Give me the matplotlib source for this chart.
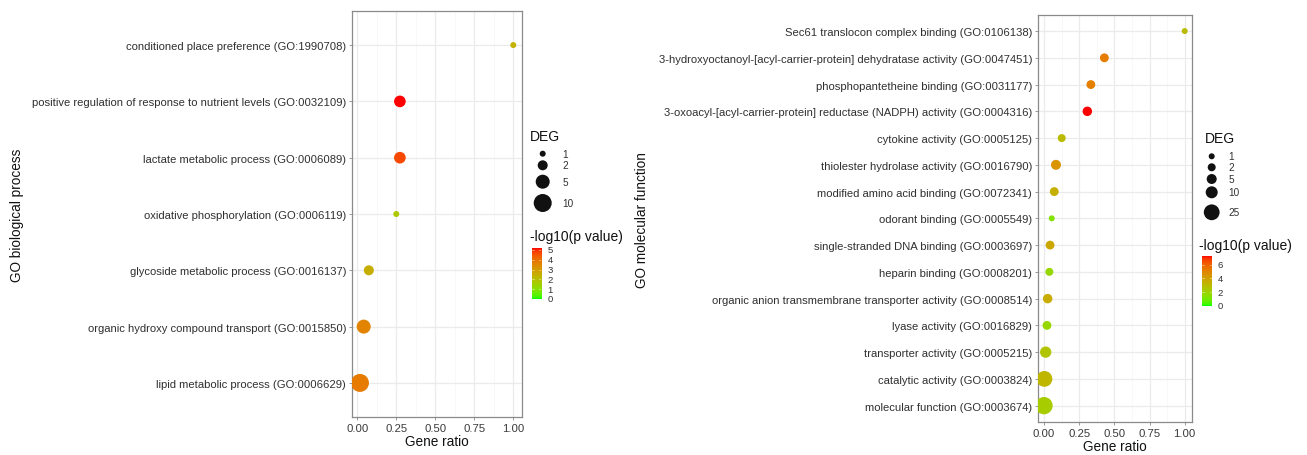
import numpy as np
import matplotlib
matplotlib.use('Agg')
import matplotlib.pyplot as plt
from matplotlib.colors import ListedColormap, Normalize

plt.rcParams['font.family'] = ['Liberation Sans', 'DejaVu Sans']

# ---------------- data (listed top to bottom) ----------------
bp_terms = [
    "conditioned place preference (GO:1990708)",
    "positive regulation of response to nutrient levels (GO:0032109)",
    "lactate metabolic process (GO:0006089)",
    "oxidative phosphorylation (GO:0006119)",
    "glycoside metabolic process (GO:0016137)",
    "organic hydroxy compound transport (GO:0015850)",
    "lipid metabolic process (GO:0006629)",
]
bp_ratio = [1.00, 0.273, 0.273, 0.25, 0.074, 0.041, 0.017]
bp_deg = [1, 3, 3, 1, 2, 5, 10]
bp_logp = [2.4, 5.2, 4.7, 1.8, 2.5, 3.6, 3.8]

mf_terms = [
    "Sec61 translocon complex binding (GO:0106138)",
    "3-hydroxyoctanoyl-[acyl-carrier-protein] dehydratase activity (GO:0047451)",
    "phosphopantetheine binding (GO:0031177)",
    "3-oxoacyl-[acyl-carrier-protein] reductase (NADPH) activity (GO:0004316)",
    "cytokine activity (GO:0005125)",
    "thiolester hydrolase activity (GO:0016790)",
    "modified amino acid binding (GO:0072341)",
    "odorant binding (GO:0005549)",
    "single-stranded DNA binding (GO:0003697)",
    "heparin binding (GO:0008201)",
    "organic anion transmembrane transporter activity (GO:0008514)",
    "lyase activity (GO:0016829)",
    "transporter activity (GO:0005215)",
    "catalytic activity (GO:0003824)",
    "molecular function (GO:0003674)",
]
mf_ratio = [1.00, 0.429, 0.333, 0.308, 0.126, 0.085, 0.073, 0.055, 0.043,
            0.038, 0.026, 0.021, 0.012, 0.003, 0.0]
mf_deg = [1, 3, 3, 4, 2, 5, 3, 1, 3, 2, 4, 3, 8, 25, 33]
mf_logp = [3.0, 5.3, 5.2, 7.3, 3.0, 4.5, 3.5, 1.3, 3.8, 1.8, 3.6, 1.8, 2.6, 3.2, 2.3]

x_ticks = [0.00, 0.25, 0.50, 0.75, 1.00]
x_ticklabels = ["0.00", "0.25", "0.50", "0.75", "1.00"]
bp_deg_breaks = [1, 2, 5, 10]
mf_deg_breaks = [1, 2, 5, 10, 25]
bp_cbar_ticks = [0, 1, 2, 3, 4, 5]
mf_cbar_ticks = [0, 2, 4, 6]

# ---------------- colour scale (CIELAB green -> red, like ggplot) ----------------
def _to_lin(c):
    c = np.asarray(c, float)
    return np.where(c <= 0.04045, c / 12.92, ((c + 0.055) / 1.055) ** 2.4)

def _from_lin(c):
    c = np.clip(c, 0, 1)
    return np.where(c <= 0.0031308, 12.92 * c, 1.055 * c ** (1 / 2.4) - 0.055)

M = np.array([[0.4124, 0.3576, 0.1805], [0.2126, 0.7152, 0.0722], [0.0193, 0.1192, 0.9505]])
WN = np.array([0.95047, 1.0, 1.08883])

def rgb2lab(rgb):
    xyz = M @ _to_lin(rgb) / WN
    f = np.where(xyz > 216 / 24389, np.cbrt(xyz), (24389 / 27 * xyz + 16) / 116)
    return np.array([116 * f[1] - 16, 500 * (f[0] - f[1]), 200 * (f[1] - f[2])])

def lab2rgb(lab):
    L, a, b = lab
    fy = (L + 16) / 116
    fx = fy + a / 500
    fz = fy - b / 200
    f = np.array([fx, fy, fz])
    xyz = np.where(f ** 3 > 216 / 24389, f ** 3, (116 * f - 16) / (24389 / 27)) * WN
    return _from_lin(np.linalg.inv(M) @ xyz)

lab_lo = rgb2lab([0, 1, 0])
lab_hi = rgb2lab([1, 0, 0])
cm = ListedColormap([lab2rgb(lab_lo + t * (lab_hi - lab_lo)) for t in np.linspace(0, 1, 256)])

DPI = 100
W, H = 1307, 456
fig = plt.figure(figsize=(W / DPI, H / DPI), dpi=DPI)

def diam_px(v, vmin, vmax, dmin, dmax):
    v = np.asarray(v, float)
    return dmin + (dmax - dmin) * np.sqrt((v - vmin) / (vmax - vmin))

def s_from_px(d):
    return (np.asarray(d) * 72.0 / DPI) ** 2

def px_rect(x0, y0, x1, y1):
    return [x0 / W, 1 - y1 / H, (x1 - x0) / W, (y1 - y0) / H]

def panel(rect, terms, ratio, deg, logp, xlim, vmax, dmax):
    ax = fig.add_axes(rect)
    n = len(terms)
    ypos = np.arange(n, 0, -1)
    norm = Normalize(0, vmax)
    ax.set_axisbelow(True)
    for t in np.arange(0.125, 1.0, 0.25):
        ax.axvline(t, color='#f5f5f5', lw=0.5, zorder=0)
    for t in x_ticks:
        ax.axvline(t, color='#ebebeb', lw=0.9, zorder=0)
    for yy in ypos:
        ax.axhline(yy, color='#ebebeb', lw=0.9, zorder=0)
    order = np.argsort(-np.asarray(deg))
    ax.scatter(np.asarray(ratio)[order], ypos[order],
               s=s_from_px(diam_px(np.asarray(deg)[order], 1, max(deg), 6, dmax)),
               c=cm(norm(np.asarray(logp)[order])), linewidths=0, zorder=3)
    ax.set_xlim(*xlim)
    ax.set_ylim(0.4, n + 0.6)
    ax.set_xticks(x_ticks)
    ax.set_xticklabels(x_ticklabels, fontsize=8.2, color='#3a3a3a')
    ax.set_yticks(ypos)
    ax.set_yticklabels(terms, fontsize=8.15, color='#303030')
    ax.tick_params(length=2.5, width=0.6, color='#888888', pad=2)
    for sp in ax.spines.values():
        sp.set_color('#8a8a8a')
        sp.set_linewidth(0.9)
    ax.set_xlabel("Gene ratio", fontsize=9.8, labelpad=0.5, color='#111111')
    return ax

axL = panel(px_rect(352.3, 12.3, 521.7, 417.7), bp_terms, bp_ratio, bp_deg, bp_logp,
            (-0.032, 1.054), 5.2, 18)
axR = panel(px_rect(1038.3, 16, 1192.3, 422.7), mf_terms, mf_ratio, mf_deg, mf_logp,
            (-0.0405, 1.054), 7.3, 6 + 2 * np.sqrt(32))

fig.text(17 / W, 1 - 215 / H, "GO biological process", rotation=90, fontsize=9.8,
         ha='center', va='center', color='#111111')
fig.text(642 / W, 1 - 220 / H, "GO molecular function", rotation=90, fontsize=9.8,
         ha='center', va='center', color='#111111')

# ---------------- legends ----------------
lg = fig.add_axes([0, 0, 1, 1], zorder=5)
lg.set_xlim(0, W)
lg.set_ylim(H, 0)
lg.axis('off')

def size_legend(tx, ty, cx, ys, lx, breaks, vmax, dmax):
    lg.text(tx, ty, "DEG", fontsize=10, ha='left', va='center', color='#111111')
    d = diam_px(breaks, 1, vmax, 6, dmax)
    lg.scatter([cx] * len(breaks), ys, s=s_from_px(d), c='#111111', linewidths=0)
    for y, b in zip(ys, breaks):
        lg.text(lx, y, str(b), fontsize=7.2, ha='left', va='center', color='#303030')

size_legend(530, 137, 542.7, [154.7, 166.3, 182.7, 204.0], 562.5, bp_deg_breaks, 10, 18)
size_legend(1205, 139.5, 1211.7, [157.3, 168.3, 180.0, 193.3, 213.3], 1228.5,
            mf_deg_breaks, 33, 6 + 2 * np.sqrt(32))

def color_legend(tx, ty, x0, x1, y0, y1, lx, vmax, ticks):
    lg.text(tx, ty, "-log10(p value)", fontsize=10, ha='left', va='center', color='#111111')
    cax = fig.add_axes(px_rect(x0, y0, x1, y1), zorder=6)
    grad = np.linspace(0, vmax, 200).reshape(-1, 1)
    cax.imshow(grad, aspect='auto', cmap=cm, vmin=0, vmax=vmax, origin='lower',
               extent=[0, 1, 0, vmax])
    cax.set_xlim(0, 1)
    cax.set_ylim(0, vmax)
    for t in ticks:
        cax.plot([0, 0.2], [t, t], color='white', lw=0.4, alpha=0.8)
        cax.plot([0.8, 1], [t, t], color='white', lw=0.4, alpha=0.8)
    cax.axis('off')
    for t in ticks:
        y = y1 - (y1 - y0) * t / vmax
        lg.text(lx, y, str(t), fontsize=6.8, ha='left', va='center', color='#303030')

color_legend(530, 237.3, 531.7, 541.3, 249, 300, 547.5, 5.2, bp_cbar_ticks)
color_legend(1199.3, 246, 1201.7, 1211.7, 256.7, 306.7, 1217.5, 7.3, mf_cbar_ticks)

fig.savefig("out.png", dpi=DPI)
